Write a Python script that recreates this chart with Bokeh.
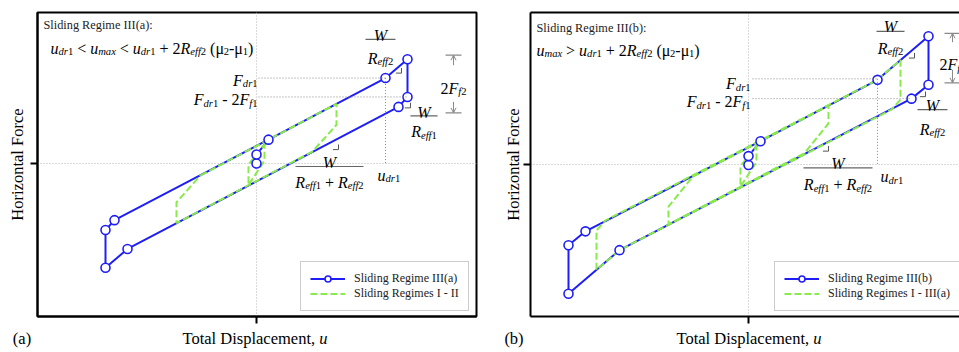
import math
from bokeh.plotting import figure
from bokeh.models import (Range1d, FixedTicker, LinearAxis, Label, Legend, LegendItem,
                          Arrow, OpenHead, Div)
from bokeh.layouts import row, column
from bokeh.embed import file_html
from bokeh.resources import INLINE

# ---------------- data (arbitrary units: displacement u, force F) ----------------
# Panel (a): Sliding Regime III(a)
a_loop_u = [0, 0, 6, 64.5, 75.5, 75.5, 71, -64.5, -75.5, -75.5, -71, 6]
a_loop_F = [0, 4.5, 12, 43, 52.5, 33.5, 28.5, -43, -52.5, -33.5, -28.5, 12]
a_green_u = [-28, 40, 40, 28, -40, -40, -28]
a_green_F = [-6, 30, 19.5, 6, -30, -19.5, -6]
a_center_u = [4, 4, -4, -4, 6]
a_center_F = [10.9, 1.5, -10.9, -0.5, 12]
a_Fdr1 = 43
a_Fdr1_2Ff1 = 33.5
a_udr1 = 64.5

# Panel (b): Sliding Regime III(b)
b_loop_u = [0, 0, 6, 64.5, 90, 90, 81.5, -64.5, -90, -90, -81.5, 6]
b_loop_F = [0, 4.5, 12, 43, 65, 40.5, 33.5, -43, -65, -40.5, -33.5, 12]
b_outer_u = [64.5, 76, 76, 71.5, -64.5, -76, -76, -71.5, 64.5]
b_outer_F = [43, 53, 33, 28, -43, -53, -33, -28, 43]
b_green_u = [-28, 40, 40, 28, -40, -40, -28]
b_green_F = [-6, 30, 21, 6, -30, -21, -6]
b_center_u = [4, 4, -4, -4, 6]
b_center_F = [10.9, 1.5, -10.9, -0.5, 12]
b_Fdr1 = 43.5
b_Fdr1_2Ff1 = 33.5
b_udr1 = 64.5

FONT = "Liberation Serif"
BLUE = "#1f1ff5"
GREEN = "#88ea4c"
DIM = "#8a8a8a"

REG_W = {' ': 250, '(': 333, ')': 333, '+': 564, ',': 250, '-': 333, '.': 250, ':': 278,
         '<': 564, '>': 564, 'μ': 520,
         '0': 500, '1': 500, '2': 500, '3': 500,
         'A': 722, 'B': 667, 'C': 667, 'D': 722, 'E': 611, 'F': 556, 'G': 722, 'H': 722,
         'I': 333, 'L': 611, 'M': 889, 'R': 667, 'S': 556, 'T': 611, 'W': 944,
         'a': 444, 'b': 500, 'c': 444, 'd': 500, 'e': 444, 'f': 333, 'g': 500, 'h': 500,
         'i': 278, 'l': 278, 'm': 778, 'n': 500, 'o': 500, 'p': 500, 'r': 333, 's': 389,
         't': 278, 'u': 500, 'x': 500, 'z': 444}
ITA_W = {'u': 500, 'm': 722, 'a': 500, 'x': 444, 'd': 500, 'r': 389, 'e': 444, 'f': 278,
         'F': 611, 'R': 611, 'W': 833}


def text_width(s, size, italic):
    tbl = ITA_W if italic else REG_W
    return sum((tbl.get(c) or REG_W.get(c, 500)) for c in s) * size / 1000.0


def rich(p, x, y, segs, size=16, align="left", color="black"):
    """segs: list of (text, italic, subscript); spaces become explicit offsets"""
    placed = []
    cur = 0.0
    for t, it, sub in segs:
        sz = size * 0.66 if sub else size
        w = text_width(t, sz, it)
        lead = len(t) - len(t.lstrip(" "))
        core = t.strip(" ")
        if core:
            placed.append((core, it, sz, cur + lead * 0.25 * sz, sub))
        cur += w
    start = {"left": 0.0, "center": -cur / 2.0, "right": -cur}[align]
    for t, it, sz, xo, sub in placed:
        dy = size * 0.22 * 0.5 if sub else 0.0
        p.add_layout(Label(x=x, y=y - dy, text=t, x_offset=start + xo, text_font=FONT,
                           text_font_size=f"{sz:.1f}px",
                           text_font_style="italic" if it else "normal",
                           text_color=color, text_align="left", text_baseline="alphabetic"))
    return cur


I, R = True, False
S, N = True, False
SEG_FDR1 = [("F", I, N), ("dr", I, S), ("1", R, S)]
SEG_FDR1_2FF1 = [("F", I, N), ("dr", I, S), ("1", R, S), (" - 2", R, N), ("F", I, N), ("f", I, S), ("1", R, S)]
SEG_UDR1 = [("u", I, N), ("dr", I, S), ("1", R, S)]
SEG_W = [("W", I, N)]
SEG_REFF2 = [("R", I, N), ("eff", I, S), ("2", R, S)]
SEG_REFF1 = [("R", I, N), ("eff", I, S), ("1", R, S)]
SEG_RSUM = [("R", I, N), ("eff", I, S), ("1", R, S), (" + ", R, N), ("R", I, N), ("eff", I, S), ("2", R, S)]
SEG_2FF2 = [("2", R, N), ("F", I, N), ("f", I, S), ("2", R, S)]
SEG_TAIL = [(" + 2", R, N), ("R", I, N), ("eff", I, S), ("2", R, S), (" (μ", R, N), ("2", R, S),
            ("-μ", R, N), ("1", R, S), (")", R, N)]
SEG_FORM_A = [("u", I, N), ("dr", I, S), ("1", R, S), (" < ", R, N), ("u", I, N), ("max", I, S),
              (" < ", R, N), ("u", I, N), ("dr", I, S), ("1", R, S)] + SEG_TAIL
SEG_FORM_B = [("u", I, N), ("max", I, S), (" > ", R, N), ("u", I, N), ("dr", I, S), ("1", R, S)] + SEG_TAIL


def make_panel(width, height, borders, xr, yr, full_box, ylab_standoff):
    bl, br, bt, bb = borders
    p = figure(width=width, height=height, x_range=Range1d(*xr), y_range=Range1d(*yr),
               output_backend="svg", toolbar_location=None,
               min_border_left=bl, min_border_right=br, min_border_top=bt, min_border_bottom=bb)
    p.xaxis.ticker = FixedTicker(ticks=[0])
    p.yaxis.ticker = FixedTicker(ticks=[0])
    for ax in (p.xaxis[0], p.yaxis[0]):
        ax.major_label_text_font_size = "0px"
        ax.major_label_text_color = None
        ax.major_label_standoff = 0
        ax.major_tick_in = 0
        ax.major_tick_out = 7
        ax.major_tick_line_width = 2
        ax.major_tick_line_color = "black"
        ax.minor_tick_line_color = None
        ax.axis_line_width = 2
        ax.axis_line_color = "black"
    p.yaxis.axis_label = "Horizontal Force"
    p.yaxis.axis_label_text_font = FONT
    p.yaxis.axis_label_text_font_size = "16.5px"
    p.yaxis.axis_label_text_font_style = "normal"
    p.yaxis.axis_label_text_color = "black"
    p.yaxis.axis_label_standoff = ylab_standoff
    p.grid.grid_line_color = "#b5b5b5"
    p.grid.grid_line_dash = "1 2"
    p.grid.grid_line_width = 1
    if full_box:
        p.outline_line_color = "black"
        p.outline_line_width = 2
        p.outline_line_alpha = 1
    else:
        p.outline_line_color = None
        top = LinearAxis(ticker=FixedTicker(ticks=[]), major_tick_out=0, major_tick_in=0,
                         minor_tick_out=0, minor_tick_in=0, major_label_text_font_size="0px",
                         major_label_text_color=None,
                         major_label_standoff=0, axis_line_width=2, axis_line_color="black")
        p.add_layout(top, "above")
    return p


def ref_lines(p, x0, fdr, fdr2, x_end2, udr):
    p.line([x0, udr], [fdr, fdr], line_color=DIM, line_dash="1 2", line_width=1)
    p.line([x0, x_end2], [fdr2, fdr2], line_color=DIM, line_dash="1 2", line_width=1)
    p.line([udr, udr], [fdr, 0], line_color=DIM, line_dash="1 2", line_width=1)


def slope_marks(p, corners_u, corners_F):
    xs, ys = [], []
    for cu, cf in zip(corners_u, corners_F):
        xs.append([cu - 2.8, cu, cu])
        ys.append([cf, cf, cf + 2.6])
    p.multi_line(xs, ys, line_color="#555", line_width=1)


def fraction(p, cu, bar_F, half, num_F, num, den_F, den):
    p.line([cu - half, cu + half], [bar_F, bar_F], line_color="#666", line_width=1.2)
    rich(p, cu, num_F, num, align="center")
    rich(p, cu, den_F, den, align="center")


def dimension(p, du, top_F, bot_F, arr_top, arr_bot, text_F, half=4):
    p.line([du - half, du + half], [top_F, top_F], line_color=DIM, line_width=1.2)
    p.line([du - half, du + half], [bot_F, bot_F], line_color=DIM, line_width=1.2)
    p.add_layout(Arrow(end=OpenHead(size=5, line_color=DIM, line_width=1),
                       x_start=du, y_start=arr_top, x_end=du, y_end=top_F,
                       line_color=DIM, line_width=1))
    p.add_layout(Arrow(end=OpenHead(size=5, line_color=DIM, line_width=1),
                       x_start=du, y_start=arr_bot, x_end=du, y_end=bot_F,
                       line_color=DIM, line_width=1))
    rich(p, du, text_F, SEG_2FF2, align="center")


def draw_curves(p, lu, lf, greens):
    bl = p.line(lu, lf, line_color=BLUE, line_width=2)
    gls = [p.line(gu, gf, line_color=GREEN, line_width=2, line_dash="7 3") for gu, gf in greens]
    sc = p.scatter(lu[:-1], lf[:-1], marker="circle", size=9, line_color=BLUE, line_width=1.6,
                   fill_color="white")
    return bl, gls[0], sc


def add_legend(p, bl, sc, gl, lab1, lab2, loc):
    leg = Legend(items=[LegendItem(label=lab1, renderers=[bl, sc]),
                        LegendItem(label=lab2, renderers=[gl])],
                 location=loc, orientation="vertical", margin=0, padding=9, spacing=0,
                 glyph_width=35, glyph_height=15, label_height=15, label_standoff=9,
                 label_text_font=FONT, label_text_font_size="12px", label_text_color="#222",
                 border_line_color="#999", border_line_width=1.5, background_fill_alpha=1)
    p.add_layout(leg)


FIG_H = 326

# ---------------- panel (a) ----------------
pa = make_panel(495, FIG_H, (37, 19, 12, 8), (-109.5, 110), (-77, 76), True, 4)
bla, gla, sca = draw_curves(pa, a_loop_u, a_loop_F,
                            [(a_green_u, a_green_F), (a_center_u, a_center_F)])
ref_lines(pa, 1, a_Fdr1, a_Fdr1_2Ff1, 75.5, a_udr1)
slope_marks(pa, [72.5, 41, 77], [45.5, 7, 28])
rich(pa, -106.5, 69.5, [("Sliding Regime III(a):", R, N)], size=12.3, color="#222")
rich(pa, -103, 58, SEG_FORM_A, size=16)
rich(pa, 0.5, 42, SEG_FDR1, align="right")
rich(pa, 0.5, 32, SEG_FDR1_2FF1, align="right")
rich(pa, 60.5, -6, SEG_UDR1)
fraction(pa, 62, 62.5, 7.5, 64.5, SEG_W, 53, SEG_REFF2)
fraction(pa, 36.5, -1.5, 17, 0.5, SEG_W, -9.5, SEG_RSUM)
fraction(pa, 83.75, 24, 6.8, 25.5, SEG_W, 16, SEG_REFF1)
dimension(pa, 98.5, 54.5, 25.5, 49.5, 31, 38)
add_legend(pa, bla, sca, gla, "Sliding Regime III(a)", "Sliding Regimes I - II", (263, 5))

# ---------------- panel (b) ----------------
pb = make_panel(464, FIG_H, (35, 0, 9, 10), (-109, 105.5), (-76.5, 77), False, 1)
blb, glb, scb = draw_curves(pb, b_loop_u, b_loop_F,
                            [(b_outer_u, b_outer_F), (b_green_u, b_green_F), (b_center_u, b_center_F)])
ref_lines(pb, 2, b_Fdr1, b_Fdr1_2Ff1, 81.5, b_udr1)
slope_marks(pb, [83, 40, 88.5], [54, 7, 34.5])
rich(pb, -106, 69, [("Sliding Regime III(b):", R, N)], size=12.3, color="#222")
rich(pb, -106, 58, SEG_FORM_B, size=16)
rich(pb, 1, 41, SEG_FDR1, align="right")
rich(pb, 1, 32, SEG_FDR1_2FF1, align="right")
rich(pb, 66, -6, SEG_UDR1)
fraction(pb, 71, 67.5, 7, 70, SEG_W, 59, SEG_REFF2)
fraction(pb, 44.75, -1.5, 17.25, 1, SEG_W, -10, SEG_RSUM)
fraction(pb, 92, 28, 7.5, 30, SEG_W, 18, SEG_REFF2)
dimension(pb, 102, 66.5, 41.5, 62, 48, 50.5)
add_legend(pb, blb, scb, glb, "Sliding Regime III(b)", "Sliding Regimes I - III(a)", (244, 5))

# ---------------- bottom captions ----------------
SPAN = ("position:absolute;top:5px;text-align:center;white-space:nowrap;")
caption_html = (
    '<div style="position:relative;width:959px;height:26px;font-family:\'Liberation Serif\';'
    'font-size:16.5px;line-height:16.5px;color:#000;">'
    f'<span style="{SPAN}left:0px;width:44px;">(a)</span>'
    f'<span style="{SPAN}left:155px;width:200px;">Total Displacement, <i>u</i></span>'
    f'<span style="{SPAN}left:492px;width:44px;">(b)</span>'
    f'<span style="{SPAN}left:649px;width:200px;">Total Displacement, <i>u</i></span>'
    '</div>'
)
captions = Div(text=caption_html, width=959, height=26, margin=0)

layout = column(row(pa, pb), captions)
open("out.html", "w").write(file_html(layout, INLINE))
